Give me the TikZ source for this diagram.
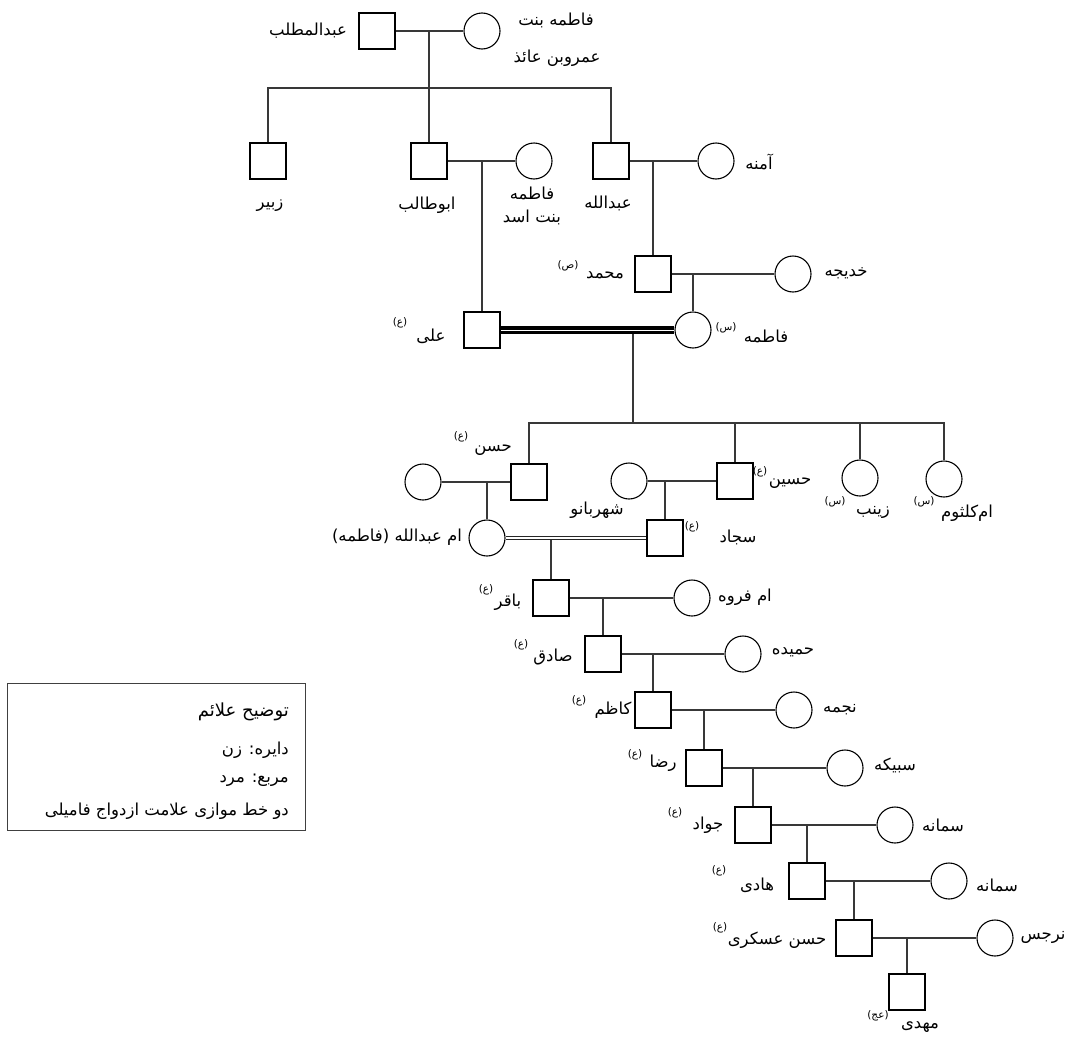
\documentclass[tikz,border=0pt]{standalone}
\usepackage{fontspec}
\newfontfamily\fa[Script=Arabic]{DejaVu Sans}
\TeXXeTstate=1
\newcommand\rl[1]{\beginR #1\endR}
\begin{document}
\begin{tikzpicture}[x=1pt,y=-1pt,
  man/.style={draw=black,line width=1.8pt,rectangle,minimum size=36pt,inner sep=0pt},
  woman/.style={draw=black,line width=1.1pt,circle,minimum size=36pt,inner sep=0pt},
  link/.style={draw=black!78,line width=1.2pt},
  lbl/.style={font=\fa\fontsize{16.5}{19}\selectfont,inner sep=0pt},
  sup/.style={font=\fa\fontsize{10.5}{12}\selectfont,inner sep=0pt},
  legendbox/.style={draw=black!75,line width=0.9pt}
]
\useasboundingbox (0,0) rectangle (1073,1036);

% ---------- people ----------
\node[man] (abdm) at (377,31) {};
\node[woman] (fbam) at (482,31) {};
\node[man] (zubayr) at (268,161) {};
\node[man] (abutalib) at (429,161) {};
\node[woman] (fbasad) at (534,161) {};
\node[man] (abdullah) at (611,161) {};
\node[woman] (amineh) at (716,161) {};
\node[man] (mohammad) at (653,274) {};
\node[woman] (khadijeh) at (793,274) {};
\node[man] (ali) at (482,330) {};
\node[woman] (fatemeh) at (693,330) {};
\node[woman] (hasanw) at (423,482) {};
\node[man] (hasan) at (529,482) {};
\node[woman] (shahr) at (629,481) {};
\node[man] (hossein) at (735,481) {};
\node[woman] (zeinab) at (860,478) {};
\node[woman] (ummk) at (944,479) {};
\node[woman] (ummab) at (487,538) {};
\node[man] (sajjad) at (665,538) {};
\node[man] (baqir) at (551,598) {};
\node[woman] (ummf) at (692,598) {};
\node[man] (sadiq) at (603,654) {};
\node[woman] (hamideh) at (743,654) {};
\node[man] (kazem) at (653,710) {};
\node[woman] (najmeh) at (794,710) {};
\node[man] (reza) at (704,768) {};
\node[woman] (sabikeh) at (845,768) {};
\node[man] (javad) at (753,825) {};
\node[woman] (samaneha) at (895,825) {};
\node[man] (hadi) at (807,881) {};
\node[woman] (samanehb) at (949,881) {};
\node[man] (askari) at (854,938) {};
\node[woman] (narges) at (995,938) {};
\node[man] (mahdi) at (907,992) {};

% ---------- junctions ----------
\coordinate (j1) at (429,31);
\coordinate (s1) at (429,88);
\coordinate (j2) at (482,161);
\coordinate (j3) at (653,161);
\coordinate (j4) at (693,274);
\coordinate (j5) at (633,334);
\coordinate (s2) at (633,423);
\coordinate (j6) at (487,482);
\coordinate (j7) at (665,481);
\coordinate (j8) at (551,540);
\coordinate (j9) at (603,598);
\coordinate (j10) at (653,654);
\coordinate (j11) at (704,710);
\coordinate (j12) at (753,768);
\coordinate (j13) at (807,825);
\coordinate (j14) at (854,881);
\coordinate (j15) at (907,938);

% ---------- connectors ----------
\draw[link] (abdm.east) -- (fbam.west);
\draw[link] (j1) -- (s1);
\draw[link] (zubayr.north) |- (s1) -| (abdullah.north);
\draw[link] (s1) -- (abutalib.north);
\draw[link] (abutalib.east) -- (fbasad.west);
\draw[link] (j2) -- (ali.north);
\draw[link] (abdullah.east) -- (amineh.west);
\draw[link] (j3) -- (mohammad.north);
\draw[link] (mohammad.east) -- (khadijeh.west);
\draw[link] (j4) -- (fatemeh.north);
\draw[line width=8pt] (ali.east) -- (fatemeh.west);
\draw[white,line width=1pt] (ali.east) -- (fatemeh.west);
\draw[link] (j5) -- (s2);
\draw[link] (hasan.north) |- (s2) -| (ummk.north);
\draw[link] (s2) -| (hossein.north);
\draw[link] (s2) -| (zeinab.north);
\draw[link] (hasanw.east) -- (hasan.west);
\draw[link] (j6) -- (ummab.north);
\draw[link] (shahr.east) -- (hossein.west);
\draw[link] (j7) -- (sajjad.north);
\draw[line width=4.6pt,black!85] (ummab.east) -- (sajjad.west);
\draw[white,line width=1.4pt] (ummab.east) -- (sajjad.west);
\draw[link] (j8) -- (baqir.north);
\draw[link] (baqir.east) -- (ummf.west);
\draw[link] (j9) -- (sadiq.north);
\draw[link] (sadiq.east) -- (hamideh.west);
\draw[link] (j10) -- (kazem.north);
\draw[link] (kazem.east) -- (najmeh.west);
\draw[link] (j11) -- (reza.north);
\draw[link] (reza.east) -- (sabikeh.west);
\draw[link] (j12) -- (javad.north);
\draw[link] (javad.east) -- (samaneha.west);
\draw[link] (j13) -- (hadi.north);
\draw[link] (hadi.east) -- (samanehb.west);
\draw[link] (j14) -- (askari.north);
\draw[link] (askari.east) -- (narges.west);
\draw[link] (j15) -- (mahdi.north);

% ---------- labels ----------
\node[lbl] (tabdm) at (308,31) {\rl{عبدالمطلب}};
\node[lbl] (tfbama) at (556,20) {\rl{فاطمه بنت}};
\node[lbl] (tfbamb) at (557,58) {\rl{عمروبن عائذ}};
\node[lbl] (tzub) at (270,206) {\rl{زبیر}};
\node[lbl] (tabut) at (427,205) {\rl{ابوطالب}};
\node[lbl] (tfbasa) at (532,193) {\rl{فاطمه}};
\node[lbl] (tfbasb) at (532,217) {\rl{بنت اسد}};
\node[lbl] (tabdl) at (608,203) {\rl{عبدالله}};
\node[lbl] (tamin) at (759,162) {\rl{آمنه}};
\node[lbl] (tmoh) at (605,275) {\rl{محمد}};
\node[sup] (smoh) at (568,266) {(ص)};
\node[lbl] (tkhad) at (846,273) {\rl{خدیجه}};
\node[lbl] (tfat) at (766,336) {\rl{فاطمه}};
\node[sup] (sfat) at (726,328) {(س)};
\node[lbl] (tali) at (431,336) {\rl{علی}};
\node[sup] (sali) at (400,323) {(ع)};
\node[lbl] (thas) at (493,450) {\rl{حسن}};
\node[sup] (shas) at (461,437) {(ع)};
\node[lbl] (tummab) at (397,537) {\rl{ام عبدالله (فاطمه)}};
\node[lbl] (tshahr) at (597,510) {\rl{شهربانو}};
\node[lbl] (thos) at (790,483) {\rl{حسین}};
\node[sup] (shos) at (760,472) {(ع)};
\node[lbl] (tsaj) at (738,537) {\rl{سجاد}};
\node[sup] (ssaj) at (692,527) {(ع)};
\node[lbl] (tzein) at (873,512) {\rl{زینب}};
\node[sup] (szein) at (835,502) {(س)};
\node[lbl] (tummk) at (967,513) {\rl{ام‌کلثوم}};
\node[sup] (summk) at (924,502) {(س)};
\node[lbl] (tbaq) at (508,602) {\rl{باقر}};
\node[sup] (sbaq) at (486,590) {(ع)};
\node[lbl] (tummf) at (745,597) {\rl{ام فروه}};
\node[lbl] (tsad) at (553,657) {\rl{صادق}};
\node[sup] (ssad) at (521,645) {(ع)};
\node[lbl] (tham) at (793,652) {\rl{حمیده}};
\node[lbl] (tkaz) at (613,710) {\rl{کاظم}};
\node[sup] (skaz) at (579,701) {(ع)};
\node[lbl] (tnaj) at (840,710) {\rl{نجمه}};
\node[lbl] (trez) at (663,763) {\rl{رضا}};
\node[sup] (srez) at (635,755) {(ع)};
\node[lbl] (tsab) at (895,765) {\rl{سبیکه}};
\node[lbl] (tjav) at (708,825) {\rl{جواد}};
\node[sup] (sjav) at (675,813) {(ع)};
\node[lbl] (tsama) at (943,825) {\rl{سمانه}};
\node[lbl] (thad) at (757,885) {\rl{هادی}};
\node[sup] (shad) at (719,871) {(ع)};
\node[lbl] (tsamb) at (997,885) {\rl{سمانه}};
\node[lbl] (task) at (777,940) {\rl{حسن عسکری}};
\node[sup] (sask) at (720,928) {(ع)};
\node[lbl] (tnar) at (1043,937) {\rl{نرجس}};
\node[lbl] (tmah) at (920,1027) {\rl{مهدی}};
\node[sup] (smah) at (878,1016) {(عج)};

% ---------- legend ----------
\draw[legendbox] (7,683) rectangle (305,830);
\node[lbl,anchor=east,font=\fa\fontsize{18}{20}\selectfont] (lg1) at (289,712) {\rl{توضیح علائم}};
\node[lbl,anchor=east] (lg2) at (289,750) {\rl{دایره: زن}};
\node[lbl,anchor=east] (lg3) at (289,780) {\rl{مربع: مرد}};
\node[lbl,anchor=east] (lg4) at (289,811) {\rl{دو خط موازی علامت ازدواج فامیلی}};
\end{tikzpicture}
\end{document}
